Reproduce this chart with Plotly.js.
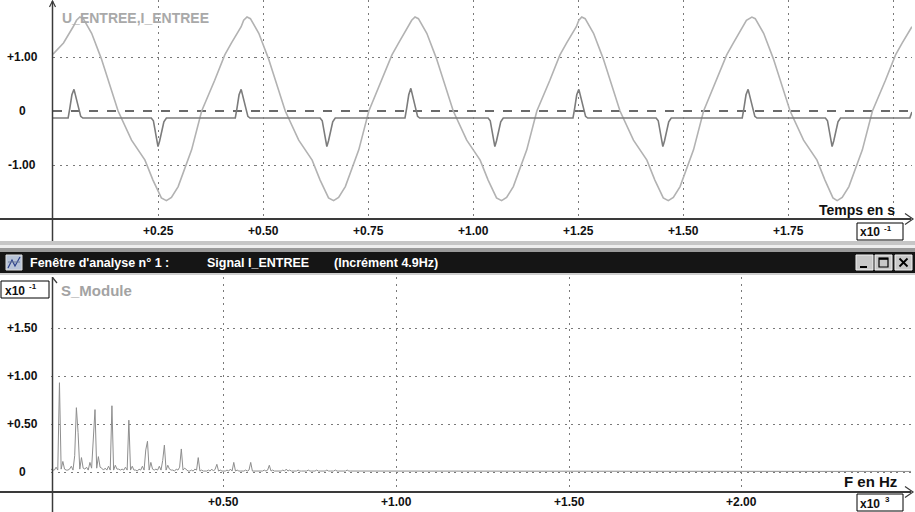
<!DOCTYPE html>
<html>
<head>
<meta charset="utf-8">
<script src="https://cdn.plot.ly/plotly-3.0.1.min.js"></script>
<style>
  html, body { margin: 0; padding: 0; background: #ffffff; }
  #chart { width: 915px; height: 512px; }
</style>
</head>
<body>
<div id="chart"></div>
<script>
// ---- Time-domain signals (time in units of 10^-1 s) ----
const tU = [0.000, 0.025, 0.048, 0.056, 0.064, 0.072, 0.092, 0.115, 0.155, 0.187, 0.219, 0.238, 0.258, 0.270, 0.282, 0.298, 0.330, 0.354, 0.385, 0.409, 0.425, 0.448, 0.454,
            0.462, 0.470, 0.490, 0.513, 0.553, 0.585, 0.617, 0.636, 0.656, 0.668, 0.680, 0.696, 0.728, 0.752, 0.783, 0.807, 0.823, 0.846, 0.854,
            0.862, 0.870, 0.890, 0.913, 0.953, 0.985, 1.017, 1.036, 1.056, 1.068, 1.080, 1.096, 1.128, 1.152, 1.183, 1.207, 1.223, 1.246, 1.252,
            1.259, 1.267, 1.287, 1.310, 1.350, 1.382, 1.414, 1.433, 1.453, 1.465, 1.477, 1.493, 1.525, 1.549, 1.580, 1.604, 1.620, 1.643, 1.651,
            1.664, 1.672, 1.692, 1.715, 1.755, 1.787, 1.819, 1.838, 1.857, 1.867, 1.879, 1.895, 1.927, 1.951, 1.982, 2.006, 2.022, 2.045];
const uEntree = [1.05, 1.26, 1.56, 1.68, 1.74, 1.71, 1.44, 0.97, 0.00, -0.54, -0.91, -1.28, -1.61, -1.66, -1.60, -1.40, -0.72, 0.00, 0.57, 1.04, 1.26, 1.56, 1.68,
                 1.74, 1.71, 1.44, 0.97, 0.00, -0.54, -0.91, -1.28, -1.61, -1.66, -1.60, -1.40, -0.72, 0.00, 0.57, 1.04, 1.26, 1.56, 1.68,
                 1.74, 1.71, 1.44, 0.97, 0.00, -0.54, -0.91, -1.28, -1.61, -1.66, -1.60, -1.40, -0.72, 0.00, 0.57, 1.04, 1.26, 1.56, 1.68,
                 1.74, 1.71, 1.44, 0.97, 0.00, -0.54, -0.91, -1.28, -1.61, -1.66, -1.60, -1.40, -0.72, 0.00, 0.57, 1.04, 1.26, 1.56, 1.68,
                 1.74, 1.71, 1.44, 0.97, 0.00, -0.54, -0.91, -1.28, -1.61, -1.66, -1.60, -1.40, -0.72, 0.00, 0.57, 1.04, 1.26, 1.56];

const tI = [0.000, 0.036, 0.040, 0.045, 0.050, 0.055, 0.061, 0.066, 0.071,
            0.234, 0.239, 0.244, 0.248, 0.250, 0.254, 0.259, 0.264, 0.270,
            0.434, 0.438, 0.443, 0.448, 0.453, 0.459, 0.464, 0.469,
            0.636, 0.641, 0.646, 0.650, 0.652, 0.656, 0.661, 0.666, 0.672,
            0.838, 0.842, 0.847, 0.852, 0.857, 0.863, 0.868, 0.873,
            1.036, 1.041, 1.046, 1.050, 1.052, 1.056, 1.061, 1.066, 1.072,
            1.238, 1.242, 1.247, 1.252, 1.257, 1.263, 1.268, 1.273,
            1.436, 1.441, 1.446, 1.450, 1.452, 1.456, 1.461, 1.466, 1.472,
            1.641, 1.645, 1.650, 1.655, 1.660, 1.666, 1.671, 1.676,
            1.839, 1.844, 1.849, 1.853, 1.855, 1.859, 1.864, 1.869, 1.875,
            2.040, 2.045];
const iEntree = [-0.13, -0.13, 0.05, 0.30, 0.40, 0.25, 0.02, -0.10, -0.13,
                 -0.13, -0.18, -0.38, -0.60, -0.66, -0.55, -0.35, -0.20, -0.13,
                 -0.13, 0.05, 0.30, 0.40, 0.25, 0.02, -0.10, -0.13,
                 -0.13, -0.18, -0.38, -0.60, -0.66, -0.55, -0.35, -0.20, -0.13,
                 -0.13, 0.05, 0.30, 0.42, 0.25, 0.02, -0.10, -0.13,
                 -0.13, -0.18, -0.38, -0.60, -0.66, -0.55, -0.35, -0.20, -0.13,
                 -0.13, 0.05, 0.30, 0.40, 0.25, 0.02, -0.10, -0.13,
                 -0.13, -0.18, -0.38, -0.60, -0.66, -0.55, -0.35, -0.20, -0.13,
                 -0.13, 0.05, 0.30, 0.40, 0.25, 0.02, -0.10, -0.13,
                 -0.13, -0.18, -0.38, -0.60, -0.66, -0.55, -0.35, -0.20, -0.13,
                 -0.13, -0.02];

// ---- Spectrum of I_ENTREE (module, units of 10^-1), one value per 4.9 Hz bin ----
const SPEC_INCREMENT_HZ = 4.9;
const sModule = [
  0.03, 0.02, 0.02, 0.05, 0.02, 0.93, 0.03, 0.11, 0.03, 0.02,
  0.02, 0.03, 0.06, 0.02, 0.17, 0.67, 0.41, 0.03, 0.15, 0.04,
  0.03, 0.05, 0.02, 0.10, 0.04, 0.33, 0.65, 0.04, 0.16, 0.05,
  0.04, 0.02, 0.04, 0.02, 0.06, 0.02, 0.69, 0.02, 0.07, 0.03,
  0.03, 0.02, 0.03, 0.02, 0.05, 0.02, 0.54, 0.02, 0.06, 0.02,
  0.02, 0.01, 0.03, 0.02, 0.06, 0.02, 0.23, 0.32, 0.02, 0.10,
  0.03, 0.02, 0.03, 0.02, 0.06, 0.02, 0.12, 0.28, 0.02, 0.07,
  0.03, 0.02, 0.02, 0.01, 0.03, 0.02, 0.05, 0.24, 0.02, 0.04,
  0.02, 0.01, 0.01, 0.02, 0.01, 0.03, 0.02, 0.15, 0.01, 0.02,
  0.01, 0.01, 0.01, 0.02, 0.01, 0.03, 0.01, 0.03, 0.08, 0.01,
  0.02, 0.01, 0.01, 0.01, 0.02, 0.01, 0.03, 0.01, 0.10, 0.01,
  0.02, 0.01, 0.01, 0.01, 0.01, 0.02, 0.01, 0.02, 0.10, 0.01,
  0.01, 0.01, 0.01, 0.01, 0.01, 0.01, 0.02, 0.01, 0.02, 0.07,
  0.01, 0.02, 0.01, 0.01, 0.01, 0.01, 0.01, 0.02, 0.01, 0.03,
  0.01, 0.02, 0.01, 0.01, 0.01, 0.01, 0.02, 0.01, 0.01, 0.01,
  0.01, 0.01, 0.02, 0.01, 0.01, 0.01, 0.01, 0.02, 0.01, 0.01,
  0.01, 0.01, 0.01, 0.02, 0.01, 0.01, 0.01, 0.01, 0.02, 0.01,
  0.01, 0.01, 0.01, 0.01, 0.01, 0.02, 0.01, 0.01, 0.01, 0.01
];
// flat high-frequency floor (kHz, module)
const sTailKHz = [0.90, 2.49];
const sTailModule = [0.006, 0.006];

// ---- Axis ticks and labels ----
const tGridVals = [0.25, 0.5, 0.75, 1.0, 1.25, 1.5, 1.75, 2.0];
const tTickVals = [0.25, 0.5, 0.75, 1.0, 1.25, 1.5, 1.75];
const tTickText = ['+0.25', '+0.50', '+0.75', '+1.00', '+1.25', '+1.50', '+1.75'];
const uTickVals = [1, 0, -1];
const uTickText = ['+1.00', '0', '-1.00'];
const fTickVals = [0.5, 1.0, 1.5, 2.0];
const fTickText = ['+0.50', '+1.00', '+1.50', '+2.00'];
const sTickVals = [1.5, 1.0, 0.5, 0];
const sTickText = ['+1.50', '+1.00', '+0.50', '0'];

// ---- Page geometry helpers (pixels -> paper fraction) ----
const W = 915, H = 512;
const px = v => v / W;
const py = v => 1 - v / H;
const FONT = 'Liberation Sans, Arial, Helvetica, sans-serif';

const fKHz = sModule.map((_, i) => i * SPEC_INCREMENT_HZ / 1000).concat(sTailKHz);
const fAmp = sModule.concat(sTailModule);

const traces = [
  { x: tU, y: uEntree, xaxis: 'x', yaxis: 'y', type: 'scatter', mode: 'lines',
    line: { color: '#b2b2b2', width: 1.6 }, hoverinfo: 'skip' },
  { x: tI, y: iEntree, xaxis: 'x', yaxis: 'y', type: 'scatter', mode: 'lines',
    line: { color: '#7c7c7c', width: 1.6 }, hoverinfo: 'skip' },
  { x: fKHz, y: fAmp, xaxis: 'x2', yaxis: 'y2', type: 'scatter', mode: 'lines',
    line: { color: '#8e8e8e', width: 1 }, hoverinfo: 'skip' }
];

const GRID = { gridcolor: '#7a7a7a', griddash: '2px,4.5px', gridwidth: 1 };
const axisBase = Object.assign({ showgrid: true, showticklabels: false, ticks: '', zeroline: false,
                                 showline: false, fixedrange: true, tickmode: 'array' }, GRID);

const shapes = [];
function rect(x0, y0, x1, y1, fill, lineColor, lw) {
  shapes.push({ type: 'rect', xref: 'paper', yref: 'paper', x0: px(x0), x1: px(x1), y0: py(y1), y1: py(y0),
                fillcolor: fill, line: { color: lineColor || fill, width: lw === undefined ? 0 : lw }, layer: 'above' });
}
function seg(x0, y0, x1, y1, color, width) {
  shapes.push({ type: 'line', xref: 'paper', yref: 'paper', x0: px(x0), x1: px(x1), y0: py(y0), y1: py(y1),
                line: { color: color, width: width }, layer: 'above' });
}
function path(points, color, width) {
  const d = points.map((p, i) => (i ? 'L ' : 'M ') + px(p[0]).toFixed(5) + ' ' + py(p[1]).toFixed(5)).join(' ');
  shapes.push({ type: 'path', xref: 'paper', yref: 'paper', path: d, line: { color: color, width: width }, layer: 'above' });
}

// dashed zero reference of the time plot
shapes.push({ type: 'line', xref: 'x', yref: 'y', x0: 0, x1: 2.0452, y0: 0, y1: 0,
              line: { color: '#6a6a6a', width: 2, dash: '9px,9px' }, layer: 'below' });

// window frame between the two panels
rect(0, 241, 915, 245, '#c6c6c6');
rect(0, 245, 915, 248, '#eeeeee');
rect(0, 248, 915, 252, '#9a9a9a');
rect(0, 252, 915, 273, '#151515');
rect(0, 273, 915, 275, '#cfcfcf');

// title bar icon
rect(6, 255, 22, 270, '#b8c4d8', '#dddddd', 1);
path([[8, 268], [12, 260], [15, 266], [20, 257]], '#2a3f8a', 1.2);
seg(8, 262, 20, 262, '#6b7b9a', 1);

// title bar buttons
rect(856, 255, 873, 270, '#c8c8c8', '#f2f2f2', 1);
seg(860, 267, 867, 267, '#000000', 2);
rect(875, 255, 892, 270, '#c8c8c8', '#f2f2f2', 1);
rect(879, 258, 888, 267, 'rgba(0,0,0,0)', '#000000', 1.2);
seg(879, 258.8, 888, 258.8, '#000000', 2);
rect(895, 255, 912, 270, '#c8c8c8', '#f2f2f2', 1);
seg(899.5, 258.5, 907.5, 266.5, '#000000', 1.8);
seg(907.5, 258.5, 899.5, 266.5, '#000000', 1.8);

// axis lines and arrows, top panel
seg(52.5, 1, 52.5, 241, '#3a3a3a', 1.5);
path([[49.5, 7], [52.5, 1], [55.5, 7]], '#3a3a3a', 1.2);
seg(0, 219, 911, 219, '#3a3a3a', 2);
path([[905, 213.5], [913, 219], [905, 224.5]], '#3a3a3a', 1.2);

// axis lines and arrows, bottom panel
seg(52.5, 277, 52.5, 512, '#3a3a3a', 1.5);
path([[52.5, 277.5], [57, 283]], '#3a3a3a', 1.2);
seg(0, 492, 911, 492, '#3a3a3a', 2);
path([[905, 486.5], [913, 492], [905, 497.5]], '#3a3a3a', 1.2);

// multiplier boxes
rect(857, 223, 903, 240, '#ffffff', '#000000', 1);
rect(1, 281, 49, 298, '#ffffff', '#000000', 1);
rect(857, 494, 903, 511, '#ffffff', '#000000', 1);

const annotations = [];
function label(text, x, y, opts, size, color) {
  annotations.push(Object.assign({
    text: text, x: x, y: y, xref: 'paper', yref: 'paper', showarrow: false,
    xanchor: 'center', yanchor: 'middle',
    font: { family: FONT, size: size || 12, color: color || '#111111', weight: 'bold' }
  }, opts || {}));
}

tTickVals.forEach((v, i) => label(tTickText[i], v, py(231), { xref: 'x' }));
uTickVals.forEach((v, i) => label(uTickText[i], px(22), v, { yref: 'y' }));
fTickVals.forEach((v, i) => label(fTickText[i], v, py(502), { xref: 'x2' }));
sTickVals.forEach((v, i) => label(sTickText[i], px(22), v, { yref: 'y2' }));

label('U_ENTREE,I_ENTREE', px(60), py(17.5), { xanchor: 'left' }, 14, '#a9a9a9');
label('S_Module', px(59), py(290), { xanchor: 'left' }, 15, '#a3a3a3');
label('Temps en s', px(817), py(210), { xanchor: 'left' }, 14);
label('F en Hz', px(842), py(481), { xanchor: 'left' }, 15);

// scale multipliers: mantissa and exponent
label('x10', px(858), py(232), { xanchor: 'left' }, 12);
label('-1', px(882), py(228), { xanchor: 'left' }, 8);
label('x10', px(3), py(290.5), { xanchor: 'left' }, 12);
label('-1', px(27), py(286.5), { xanchor: 'left' }, 8);
label('x10', px(858), py(503.5), { xanchor: 'left' }, 12);
label('3', px(883), py(499.5), { xanchor: 'left' }, 8);

label('Fenêtre d\'analyse n° 1 :', px(28), py(263), { xanchor: 'left' }, 12.5, '#ffffff');
label('Signal I_ENTREE', px(205), py(263), { xanchor: 'left' }, 12.5, '#ffffff');
label('(Incrément 4.9Hz)', px(332), py(263), { xanchor: 'left' }, 12.5, '#ffffff');

const layout = {
  width: W, height: H,
  margin: { l: 0, r: 0, t: 0, b: 0, pad: 0 },
  paper_bgcolor: '#ffffff', plot_bgcolor: 'rgba(0,0,0,0)',
  showlegend: false,
  xaxis: Object.assign({}, axisBase, { domain: [px(53), px(912)], range: [0, 2.0452], tickvals: tGridVals, anchor: 'y' }),
  yaxis: Object.assign({}, axisBase, { domain: [py(219), py(0)], range: [-2.0, 2.0556], tickvals: [-1, 1], anchor: 'x' }),
  xaxis2: Object.assign({}, axisBase, { domain: [px(51), px(912)], range: [0, 2.4928], tickvals: fTickVals, anchor: 'y2' }),
  yaxis2: Object.assign({}, axisBase, { domain: [py(492), py(277)], range: [-0.2083, 2.0313], tickvals: sTickVals, anchor: 'x2' }),
  shapes: shapes,
  annotations: annotations
};

Plotly.newPlot('chart', traces, layout, { displayModeBar: false, staticPlot: true });
</script>
</body>
</html>
